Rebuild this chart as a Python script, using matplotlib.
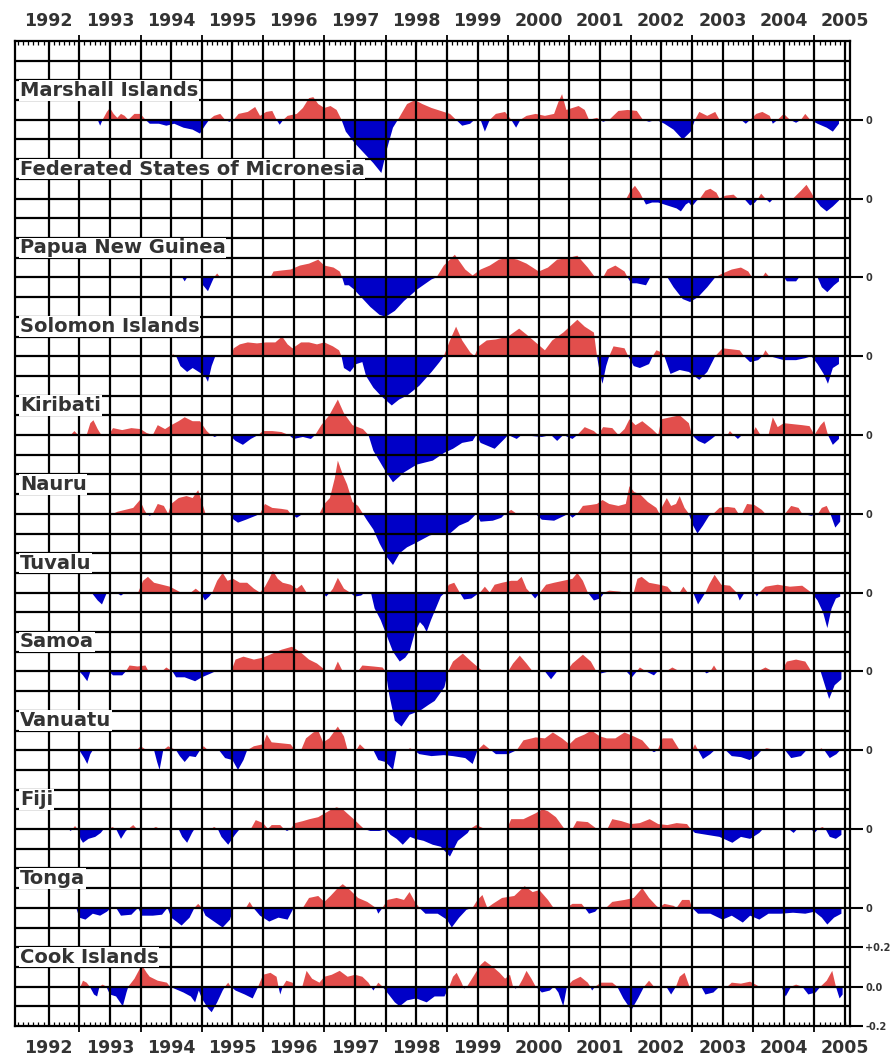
import matplotlib.pyplot as plt
import matplotlib.transforms as mtransforms
from matplotlib.ticker import MultipleLocator
import numpy as np

# sea level anomaly (m) as (year, value) points
marshall_islands = [
    (1993.30, 0.0), (1993.34, -0.03), (1993.38, 0.0), (1993.45, 0.04), (1993.50, 0.06), (1993.56, 0.03),
    (1993.62, 0.01), (1993.68, 0.03), (1993.74, 0.02), (1993.80, 0.0), (1993.90, 0.03), (1994.00, 0.03),
    (1994.08, 0.0), (1994.15, -0.02), (1994.30, -0.02), (1994.42, -0.03), (1994.55, -0.02), (1994.70, -0.04),
    (1994.85, -0.05), (1994.97, -0.07), (1995.05, -0.03), (1995.12, 0.0), (1995.20, 0.02), (1995.30, 0.03),
    (1995.38, 0.0), (1995.45, -0.01), (1995.52, 0.0), (1995.60, 0.03), (1995.75, 0.04), (1995.87, 0.065),
    (1995.95, 0.02), (1996.05, 0.04), (1996.15, 0.045), (1996.22, 0.0), (1996.27, -0.025), (1996.33, 0.0),
    (1996.40, 0.02), (1996.55, 0.03), (1996.65, 0.06), (1996.75, 0.11), (1996.82, 0.115), (1996.90, 0.08),
    (1997.00, 0.06), (1997.10, 0.07), (1997.20, 0.05), (1997.28, 0.0), (1997.35, -0.06), (1997.50, -0.12),
    (1997.65, -0.17), (1997.80, -0.22), (1997.93, -0.27), (1998.02, -0.15), (1998.12, -0.04), (1998.20, 0.0),
    (1998.35, 0.08), (1998.48, 0.10), (1998.60, 0.08), (1998.75, 0.06), (1998.90, 0.045), (1999.05, 0.03),
    (1999.15, 0.0), (1999.25, -0.03), (1999.38, -0.02), (1999.45, 0.0), (1999.55, 0.0), (1999.62, -0.06),
    (1999.70, 0.0), (1999.80, 0.03), (1999.95, 0.04), (2000.05, 0.0), (2000.13, -0.04), (2000.20, 0.0),
    (2000.30, 0.02), (2000.45, 0.03), (2000.60, 0.02), (2000.75, 0.03), (2000.82, 0.09), (2000.88, 0.13),
    (2000.95, 0.05), (2001.05, 0.06), (2001.15, 0.07), (2001.25, 0.05), (2001.32, 0.0), (2001.45, 0.01),
    (2001.55, -0.01), (2001.65, 0.0), (2001.80, 0.045), (2001.95, 0.05), (2002.10, 0.045), (2002.20, 0.0),
    (2002.30, -0.01), (2002.42, 0.0), (2002.55, -0.02), (2002.70, -0.05), (2002.85, -0.1), (2002.98, -0.06),
    (2003.05, 0.0), (2003.12, 0.04), (2003.25, 0.02), (2003.38, 0.04), (2003.45, 0.0), (2003.80, 0.0),
    (2003.88, -0.02), (2003.95, 0.0), (2004.05, 0.03), (2004.15, 0.04), (2004.27, 0.02), (2004.32, -0.02),
    (2004.40, 0.0), (2004.50, 0.03), (2004.60, 0.0), (2004.70, -0.015), (2004.78, 0.0), (2004.85, 0.03),
    (2004.93, 0.0), (2005.05, -0.02), (2005.20, -0.04), (2005.30, -0.06), (2005.40, -0.02),
]

micronesia = [
    (2001.93, 0.0), (2002.00, 0.04), (2002.07, 0.065), (2002.15, 0.03), (2002.20, 0.0), (2002.25, -0.03),
    (2002.35, -0.02), (2002.45, -0.02), (2002.55, -0.03), (2002.65, -0.04), (2002.75, -0.05), (2002.82, -0.065),
    (2002.90, -0.03), (2002.95, -0.02), (2003.00, -0.04), (2003.08, -0.01), (2003.13, 0.0), (2003.22, 0.04),
    (2003.30, 0.05), (2003.40, 0.03), (2003.45, 0.0), (2003.55, 0.015), (2003.68, 0.02), (2003.75, 0.0),
    (2003.85, 0.0), (2003.95, -0.035), (2004.03, -0.02), (2004.08, 0.0), (2004.13, 0.025), (2004.20, 0.0),
    (2004.27, -0.02), (2004.33, 0.0), (2004.65, 0.0), (2004.78, 0.04), (2004.87, 0.07), (2004.95, 0.03),
    (2005.00, 0.0), (2005.10, -0.04), (2005.20, -0.065), (2005.30, -0.04), (2005.40, -0.01),
]

papua_new_guinea = [
    (1994.68, 0.0), (1994.72, -0.02), (1994.76, 0.0), (1994.98, 0.0), (1995.02, -0.04), (1995.10, -0.07),
    (1995.17, -0.02), (1995.20, 0.0), (1995.25, 0.02), (1995.30, 0.0), (1996.12, 0.0), (1996.17, 0.03),
    (1996.30, 0.035), (1996.45, 0.04), (1996.60, 0.06), (1996.75, 0.07), (1996.90, 0.09), (1997.00, 0.06),
    (1997.15, 0.05), (1997.25, 0.03), (1997.29, 0.0), (1997.33, -0.04), (1997.40, -0.04), (1997.48, -0.06),
    (1997.60, -0.1), (1997.75, -0.15), (1997.90, -0.19), (1998.00, -0.2), (1998.15, -0.17), (1998.30, -0.12),
    (1998.52, -0.06), (1998.75, -0.01), (1998.83, 0.0), (1998.95, 0.06), (1999.13, 0.115), (1999.30, 0.04),
    (1999.42, 0.01), (1999.55, 0.04), (1999.70, 0.06), (1999.85, 0.09), (2000.00, 0.1), (2000.15, 0.09),
    (2000.30, 0.07), (2000.50, 0.03), (2000.65, 0.05), (2000.80, 0.09), (2001.00, 0.1), (2001.13, 0.11),
    (2001.30, 0.05), (2001.42, 0.0), (2001.55, 0.0), (2001.62, 0.04), (2001.75, 0.06), (2001.90, 0.03),
    (2001.95, 0.0), (2002.01, -0.03), (2002.10, -0.03), (2002.25, -0.04), (2002.32, 0.0), (2002.60, 0.0),
    (2002.70, -0.05), (2002.85, -0.11), (2002.97, -0.125), (2003.10, -0.1), (2003.25, -0.05), (2003.38, 0.0),
    (2003.50, 0.02), (2003.65, 0.04), (2003.80, 0.05), (2003.92, 0.03), (2003.98, 0.0), (2004.15, 0.0),
    (2004.20, 0.025), (2004.27, 0.0), (2004.50, 0.0), (2004.55, -0.02), (2004.70, -0.02), (2004.75, 0.0),
    (2005.05, 0.0), (2005.12, -0.05), (2005.21, -0.075), (2005.32, -0.04), (2005.40, -0.02),
]

solomon_islands = [
    (1994.50, 0.0), (1994.53, 0.01), (1994.58, 0.0), (1994.65, -0.05), (1994.76, -0.08), (1994.85, -0.06),
    (1994.95, -0.08), (1995.05, -0.1), (1995.10, -0.13), (1995.16, -0.05), (1995.22, 0.0), (1995.48, 0.0),
    (1995.52, 0.04), (1995.62, 0.06), (1995.75, 0.07), (1995.90, 0.065), (1996.05, 0.07), (1996.20, 0.07),
    (1996.31, 0.1), (1996.40, 0.06), (1996.48, 0.04), (1996.62, 0.07), (1996.75, 0.07), (1996.88, 0.06),
    (1997.00, 0.07), (1997.14, 0.05), (1997.24, 0.03), (1997.28, 0.0), (1997.32, -0.06), (1997.42, -0.08),
    (1997.52, -0.04), (1997.62, -0.03), (1997.68, -0.1), (1997.80, -0.16), (1997.92, -0.2), (1998.10, -0.25),
    (1998.22, -0.22), (1998.35, -0.2), (1998.55, -0.15), (1998.75, -0.08), (1998.88, -0.03), (1998.95, 0.0),
    (1999.05, 0.08), (1999.15, 0.15), (1999.25, 0.08), (1999.38, 0.02), (1999.45, 0.0), (1999.52, 0.05),
    (1999.65, 0.08), (1999.80, 0.085), (2000.00, 0.1), (2000.18, 0.14), (2000.30, 0.11), (2000.45, 0.07),
    (2000.60, 0.03), (2000.72, 0.08), (2000.90, 0.12), (2001.13, 0.185), (2001.25, 0.15), (2001.40, 0.12),
    (2001.45, 0.0), (2001.50, -0.09), (2001.54, -0.14), (2001.60, -0.05), (2001.65, 0.0), (2001.72, 0.05),
    (2001.90, 0.04), (2001.96, 0.0), (2002.05, -0.05), (2002.15, -0.06), (2002.30, -0.04), (2002.36, 0.0),
    (2002.42, 0.03), (2002.50, 0.02), (2002.55, 0.0), (2002.65, -0.09), (2002.80, -0.07), (2002.95, -0.08),
    (2003.12, -0.12), (2003.25, -0.08), (2003.38, 0.0), (2003.50, 0.04), (2003.65, 0.035), (2003.78, 0.03),
    (2003.85, 0.0), (2003.95, -0.03), (2004.08, -0.02), (2004.15, 0.0), (2004.20, 0.03), (2004.27, 0.0),
    (2004.50, -0.02), (2004.70, -0.02), (2004.85, -0.01), (2004.95, 0.0), (2005.05, -0.04), (2005.15, -0.09),
    (2005.22, -0.14), (2005.30, -0.06), (2005.40, -0.04),
]

kiribati = [
    (1992.86, 0.0), (1992.92, 0.02), (1992.98, 0.0), (1993.12, 0.0), (1993.18, 0.06), (1993.23, 0.075),
    (1993.30, 0.03), (1993.36, 0.0), (1993.48, 0.0), (1993.55, 0.035), (1993.70, 0.025), (1993.85, 0.035),
    (1994.00, 0.03), (1994.10, 0.01), (1994.20, 0.0), (1994.28, 0.05), (1994.40, 0.03), (1994.50, 0.05),
    (1994.62, 0.07), (1994.72, 0.09), (1994.85, 0.07), (1994.97, 0.07), (1995.08, 0.02), (1995.15, 0.0),
    (1995.21, -0.01), (1995.28, 0.0), (1995.45, 0.0), (1995.55, -0.03), (1995.67, -0.05), (1995.80, -0.02),
    (1995.92, 0.0), (1996.00, 0.02), (1996.15, 0.02), (1996.30, 0.015), (1996.42, 0.0), (1996.50, -0.02),
    (1996.65, -0.01), (1996.78, -0.02), (1996.85, 0.0), (1996.95, 0.05), (1997.08, 0.1), (1997.22, 0.18),
    (1997.32, 0.11), (1997.46, 0.05), (1997.63, 0.03), (1997.72, 0.0), (1997.80, -0.08), (1997.99, -0.18),
    (1998.12, -0.24), (1998.30, -0.19), (1998.51, -0.15), (1998.77, -0.13), (1998.96, -0.09), (1999.10, -0.07),
    (1999.25, -0.04), (1999.42, -0.03), (1999.48, 0.0), (1999.55, -0.04), (1999.78, -0.07), (1999.94, -0.02),
    (2000.00, 0.0), (2000.14, -0.02), (2000.22, 0.0), (2000.55, -0.01), (2000.70, 0.0), (2000.80, -0.03),
    (2000.90, 0.0), (2001.05, -0.02), (2001.13, 0.0), (2001.25, 0.04), (2001.40, 0.02), (2001.47, 0.0),
    (2001.55, 0.04), (2001.70, 0.035), (2001.80, 0.0), (2001.90, 0.03), (2001.98, 0.08), (2002.08, 0.05),
    (2002.19, 0.07), (2002.35, 0.03), (2002.45, 0.0), (2002.50, 0.08), (2002.65, 0.09), (2002.80, 0.1),
    (2002.95, 0.06), (2003.00, 0.0), (2003.10, -0.03), (2003.21, -0.045), (2003.32, -0.02), (2003.40, 0.0),
    (2003.58, 0.0), (2003.62, 0.02), (2003.68, 0.0), (2003.75, -0.02), (2003.82, 0.0), (2003.98, 0.0),
    (2004.04, 0.04), (2004.12, 0.0), (2004.25, 0.0), (2004.32, 0.09), (2004.40, 0.04), (2004.50, 0.06),
    (2004.65, 0.055), (2004.80, 0.05), (2004.92, 0.045), (2005.00, 0.0), (2005.10, 0.05), (2005.16, 0.07),
    (2005.22, 0.0), (2005.30, -0.05), (2005.40, -0.02),
]

nauru = [
    (1993.55, 0.0), (1993.62, 0.01), (1993.75, 0.02), (1993.88, 0.03), (1993.99, 0.07), (1994.06, 0.02),
    (1994.10, 0.0), (1994.15, -0.01), (1994.20, 0.0), (1994.28, 0.05), (1994.38, 0.04), (1994.45, 0.0),
    (1994.50, 0.05), (1994.62, 0.08), (1994.75, 0.09), (1994.85, 0.08), (1994.94, 0.12), (1995.02, 0.04),
    (1995.06, 0.0), (1995.45, 0.0), (1995.52, -0.03), (1995.59, -0.045), (1995.72, -0.03), (1995.88, -0.01),
    (1995.95, 0.0), (1996.03, 0.05), (1996.15, 0.03), (1996.30, 0.025), (1996.40, 0.02), (1996.45, 0.0),
    (1996.55, -0.02), (1996.65, 0.0), (1996.92, 0.0), (1997.00, 0.05), (1997.09, 0.08), (1997.17, 0.18),
    (1997.22, 0.27), (1997.30, 0.2), (1997.37, 0.15), (1997.46, 0.06), (1997.55, 0.04), (1997.63, 0.0),
    (1997.69, -0.03), (1997.80, -0.08), (1997.90, -0.15), (1998.02, -0.22), (1998.12, -0.26), (1998.23, -0.2),
    (1998.35, -0.17), (1998.48, -0.15), (1998.60, -0.13), (1998.72, -0.11), (1998.85, -0.1), (1999.05, -0.1),
    (1999.20, -0.06), (1999.35, -0.04), (1999.42, -0.02), (1999.48, 0.0), (1999.55, -0.04), (1999.75, -0.035),
    (1999.89, -0.02), (1999.95, 0.0), (2000.05, 0.02), (2000.14, 0.0), (2000.45, 0.0), (2000.55, -0.03),
    (2000.75, -0.035), (2000.92, -0.01), (2000.98, 0.0), (2001.05, -0.02), (2001.13, 0.0), (2001.22, 0.04),
    (2001.35, 0.045), (2001.45, 0.05), (2001.54, 0.07), (2001.65, 0.05), (2001.80, 0.04), (2001.92, 0.05),
    (2001.98, 0.14), (2002.06, 0.11), (2002.15, 0.1), (2002.28, 0.06), (2002.42, 0.03), (2002.47, 0.0),
    (2002.52, 0.04), (2002.59, 0.08), (2002.66, 0.04), (2002.74, 0.05), (2002.80, 0.09), (2002.88, 0.03),
    (2002.95, 0.0), (2003.02, -0.06), (2003.09, -0.1), (2003.18, -0.06), (2003.28, -0.01), (2003.35, 0.0),
    (2003.45, 0.03), (2003.58, 0.035), (2003.70, 0.03), (2003.76, 0.0), (2003.82, 0.0), (2003.90, 0.05),
    (2004.02, 0.045), (2004.14, 0.02), (2004.20, 0.0), (2004.52, 0.0), (2004.62, 0.04), (2004.74, 0.03),
    (2004.80, 0.0), (2004.95, -0.01), (2005.06, 0.0), (2005.12, 0.03), (2005.20, 0.04), (2005.26, 0.0),
    (2005.34, -0.07), (2005.42, -0.04),
]

tuvalu = [
    (1993.20, 0.0), (1993.30, -0.04), (1993.37, -0.06), (1993.45, 0.0), (1993.60, 0.0), (1993.68, -0.015),
    (1993.75, 0.0), (1993.96, 0.0), (1994.04, 0.06), (1994.12, 0.08), (1994.22, 0.05), (1994.35, 0.04),
    (1994.48, 0.03), (1994.60, 0.01), (1994.66, 0.0), (1994.82, 0.0), (1994.90, 0.02), (1994.98, 0.0),
    (1995.05, -0.04), (1995.12, -0.02), (1995.17, 0.0), (1995.25, 0.06), (1995.34, 0.1), (1995.42, 0.06),
    (1995.51, 0.07), (1995.62, 0.05), (1995.74, 0.05), (1995.85, 0.02), (1995.95, 0.0), (1996.03, 0.03),
    (1996.10, 0.07), (1996.16, 0.11), (1996.24, 0.07), (1996.32, 0.05), (1996.45, 0.04), (1996.55, 0.02),
    (1996.63, 0.04), (1996.71, 0.0), (1996.97, 0.0), (1997.03, -0.02), (1997.09, 0.0), (1997.14, 0.02),
    (1997.22, 0.075), (1997.32, 0.02), (1997.42, 0.0), (1997.50, -0.02), (1997.60, -0.015), (1997.66, 0.0),
    (1997.76, 0.0), (1997.82, -0.08), (1997.92, -0.14), (1998.02, -0.22), (1998.12, -0.3), (1998.23, -0.35),
    (1998.32, -0.33), (1998.39, -0.3), (1998.48, -0.2), (1998.56, -0.15), (1998.62, -0.17), (1998.67, -0.2),
    (1998.74, -0.14), (1998.82, -0.08), (1998.90, -0.02), (1998.97, 0.0), (1999.03, 0.04), (1999.12, 0.05),
    (1999.21, 0.0), (1999.28, -0.035), (1999.40, -0.03), (1999.49, -0.01), (1999.54, 0.0), (1999.62, 0.03),
    (1999.70, 0.0), (1999.78, 0.04), (1999.90, 0.05), (2000.05, 0.06), (2000.15, 0.06), (2000.22, 0.08),
    (2000.30, 0.02), (2000.36, 0.0), (2000.44, -0.03), (2000.52, 0.0), (2000.62, 0.04), (2000.75, 0.05),
    (2000.90, 0.06), (2001.05, 0.07), (2001.13, 0.1), (2001.22, 0.06), (2001.30, 0.0), (2001.40, -0.04),
    (2001.50, -0.03), (2001.57, 0.0), (2001.65, 0.01), (2001.82, 0.005), (2001.90, 0.0), (2002.05, 0.0),
    (2002.11, 0.07), (2002.18, 0.08), (2002.30, 0.05), (2002.47, 0.04), (2002.60, 0.03), (2002.68, 0.0),
    (2002.80, 0.0), (2002.86, 0.03), (2002.93, 0.0), (2003.02, 0.0), (2003.10, -0.06), (2003.18, -0.02),
    (2003.22, 0.0), (2003.28, 0.04), (2003.37, 0.09), (2003.48, 0.04), (2003.62, 0.035), (2003.73, 0.0),
    (2003.78, -0.04), (2003.86, 0.0), (2004.02, 0.0), (2004.06, -0.02), (2004.10, 0.0), (2004.20, 0.03),
    (2004.40, 0.04), (2004.60, 0.03), (2004.80, 0.035), (2004.95, 0.0), (2005.05, -0.04), (2005.14, -0.1),
    (2005.21, -0.18), (2005.28, -0.08), (2005.35, -0.03), (2005.42, -0.02),
]

samoa = [
    (1993.00, 0.0), (1993.06, -0.02), (1993.13, -0.05), (1993.18, 0.0), (1993.48, 0.0), (1993.55, -0.02),
    (1993.70, -0.02), (1993.76, 0.0), (1993.82, 0.03), (1993.95, 0.025), (1994.08, 0.03), (1994.13, 0.0),
    (1994.35, 0.0), (1994.42, 0.02), (1994.52, 0.0), (1994.58, -0.03), (1994.72, -0.03), (1994.89, -0.05),
    (1995.00, -0.03), (1995.15, -0.01), (1995.22, 0.0), (1995.48, 0.0), (1995.55, 0.06), (1995.68, 0.075),
    (1995.85, 0.06), (1996.00, 0.07), (1996.15, 0.09), (1996.30, 0.11), (1996.47, 0.125), (1996.60, 0.1),
    (1996.75, 0.06), (1996.88, 0.04), (1997.00, 0.01), (1997.05, 0.0), (1997.15, 0.0), (1997.22, 0.05),
    (1997.30, 0.0), (1997.55, 0.0), (1997.62, 0.03), (1997.80, 0.025), (1997.95, 0.02), (1998.00, 0.0),
    (1998.06, -0.12), (1998.15, -0.25), (1998.26, -0.28), (1998.39, -0.22), (1998.56, -0.2), (1998.70, -0.17),
    (1998.80, -0.15), (1998.96, -0.08), (1999.02, 0.0), (1999.10, 0.05), (1999.26, 0.09), (1999.40, 0.05),
    (1999.55, 0.01), (1999.60, 0.0), (2000.00, 0.0), (2000.08, 0.04), (2000.19, 0.08), (2000.30, 0.04),
    (2000.40, 0.0), (2000.60, 0.0), (2000.70, -0.04), (2000.80, 0.0), (2000.95, 0.0), (2001.05, 0.04),
    (2001.22, 0.085), (2001.35, 0.05), (2001.44, 0.0), (2001.52, -0.01), (2001.65, 0.0), (2001.93, 0.0),
    (2002.02, -0.03), (2002.10, 0.0), (2002.15, 0.02), (2002.25, 0.0), (2002.38, -0.02), (2002.44, 0.0),
    (2002.58, 0.0), (2002.68, 0.02), (2002.80, 0.0), (2003.20, 0.0), (2003.24, -0.01), (2003.30, 0.0),
    (2003.36, 0.03), (2003.42, 0.0), (2004.08, 0.0), (2004.20, 0.02), (2004.32, 0.0), (2004.46, 0.0),
    (2004.55, 0.05), (2004.70, 0.06), (2004.85, 0.05), (2004.95, 0.0), (2005.10, 0.0), (2005.18, -0.08),
    (2005.24, -0.14), (2005.33, -0.07), (2005.44, -0.04),
]

vanuatu = [
    (1993.00, 0.0), (1993.08, -0.04), (1993.13, -0.07), (1993.18, -0.02), (1993.22, 0.0), (1993.94, 0.0),
    (1994.00, 0.02), (1994.10, 0.0), (1994.22, 0.0), (1994.27, -0.06), (1994.31, -0.1), (1994.37, 0.0),
    (1994.45, 0.02), (1994.58, 0.0), (1994.64, -0.03), (1994.72, -0.06), (1994.80, -0.03), (1994.90, -0.035),
    (1994.97, 0.0), (1995.03, 0.02), (1995.10, 0.0), (1995.28, 0.0), (1995.38, -0.04), (1995.50, -0.05),
    (1995.59, -0.1), (1995.68, -0.05), (1995.74, 0.0), (1995.85, 0.02), (1996.00, 0.03), (1996.06, 0.08),
    (1996.14, 0.04), (1996.30, 0.035), (1996.45, 0.03), (1996.52, 0.0), (1996.62, 0.0), (1996.70, 0.06),
    (1996.82, 0.09), (1996.90, 0.1), (1996.98, 0.04), (1997.08, 0.06), (1997.22, 0.12), (1997.32, 0.07),
    (1997.38, 0.0), (1997.52, 0.0), (1997.58, 0.03), (1997.68, 0.0), (1997.80, 0.0), (1997.88, -0.05),
    (1998.00, -0.06), (1998.12, -0.1), (1998.18, 0.0), (1998.34, 0.0), (1998.40, 0.01), (1998.46, 0.0),
    (1998.55, -0.02), (1998.75, -0.03), (1998.95, -0.025), (1999.10, -0.03), (1999.30, -0.04), (1999.42, -0.07),
    (1999.50, 0.0), (1999.60, 0.03), (1999.72, 0.0), (1999.80, -0.02), (2000.00, -0.02), (2000.14, 0.0),
    (2000.25, 0.05), (2000.45, 0.065), (2000.60, 0.06), (2000.73, 0.09), (2000.88, 0.06), (2001.00, 0.03),
    (2001.10, 0.06), (2001.25, 0.08), (2001.36, 0.1), (2001.50, 0.07), (2001.61, 0.06), (2001.75, 0.06),
    (2001.90, 0.09), (2002.05, 0.07), (2002.19, 0.05), (2002.33, 0.0), (2002.38, -0.01), (2002.44, 0.0),
    (2002.52, 0.06), (2002.68, 0.06), (2002.80, 0.0), (2003.00, 0.0), (2003.05, 0.03), (2003.10, 0.0),
    (2003.18, -0.045), (2003.30, -0.02), (2003.37, 0.0), (2003.55, 0.0), (2003.65, -0.03), (2003.80, -0.035),
    (2003.94, -0.05), (2004.05, -0.03), (2004.14, 0.0), (2004.22, 0.01), (2004.38, 0.0), (2004.52, 0.0),
    (2004.62, -0.04), (2004.78, -0.03), (2004.87, 0.0), (2005.08, 0.0), (2005.11, 0.01), (2005.16, 0.0),
    (2005.25, -0.04), (2005.36, -0.02), (2005.42, 0.0),
]

fiji = [
    (1992.82, 0.0), (1992.86, -0.01), (1992.89, 0.0), (1992.93, 0.015), (1992.97, 0.0), (1993.02, -0.05),
    (1993.06, -0.07), (1993.15, -0.05), (1993.26, -0.04), (1993.35, -0.02), (1993.40, 0.0), (1993.48, 0.0),
    (1993.54, 0.01), (1993.60, 0.0), (1993.68, -0.05), (1993.76, -0.01), (1993.80, 0.0), (1993.88, 0.02),
    (1993.94, 0.0), (1994.18, 0.0), (1994.25, 0.01), (1994.32, 0.0), (1994.62, 0.0), (1994.68, -0.04),
    (1994.76, -0.07), (1994.84, -0.02), (1994.88, 0.0), (1995.15, 0.0), (1995.20, 0.01), (1995.26, 0.0),
    (1995.32, -0.04), (1995.43, -0.08), (1995.54, -0.03), (1995.62, 0.0), (1995.80, 0.0), (1995.88, 0.045),
    (1996.00, 0.03), (1996.08, 0.0), (1996.14, 0.02), (1996.28, 0.02), (1996.34, 0.0), (1996.39, -0.01),
    (1996.45, 0.0), (1996.52, 0.03), (1996.65, 0.04), (1996.76, 0.05), (1996.90, 0.06), (1997.01, 0.08),
    (1997.12, 0.1), (1997.20, 0.11), (1997.30, 0.1), (1997.37, 0.08), (1997.48, 0.05), (1997.58, 0.02),
    (1997.65, 0.0), (1997.75, -0.01), (1997.90, -0.01), (1998.00, 0.0), (1998.08, -0.03), (1998.18, -0.05),
    (1998.28, -0.08), (1998.40, -0.04), (1998.48, -0.05), (1998.62, -0.06), (1998.77, -0.08), (1998.90, -0.09),
    (1999.05, -0.14), (1999.18, -0.06), (1999.34, -0.02), (1999.38, 0.0), (1999.48, 0.02), (1999.62, 0.0),
    (1999.98, 0.0), (2000.05, 0.05), (2000.25, 0.05), (2000.45, 0.08), (2000.56, 0.1), (2000.65, 0.09),
    (2000.78, 0.06), (2000.92, 0.0), (2001.05, 0.0), (2001.12, 0.04), (2001.30, 0.035), (2001.45, 0.0),
    (2001.62, 0.0), (2001.70, 0.05), (2001.85, 0.04), (2002.00, 0.025), (2002.15, 0.03), (2002.31, 0.05),
    (2002.45, 0.025), (2002.60, 0.02), (2002.75, 0.03), (2002.92, 0.025), (2002.98, 0.0), (2003.05, -0.02),
    (2003.25, -0.03), (2003.45, -0.04), (2003.66, -0.07), (2003.80, -0.04), (2003.95, -0.05), (2004.10, -0.02),
    (2004.16, 0.0), (2004.43, 0.005), (2004.58, 0.0), (2004.66, -0.02), (2004.72, 0.0), (2004.95, 0.0),
    (2005.00, -0.02), (2005.06, 0.0), (2005.13, 0.01), (2005.18, 0.0), (2005.25, -0.04), (2005.35, -0.05),
    (2005.44, -0.03),
]

tonga = [
    (1992.95, 0.0), (1993.00, -0.05), (1993.10, -0.06), (1993.22, -0.03), (1993.34, -0.04), (1993.45, -0.02),
    (1993.52, 0.0), (1993.60, 0.0), (1993.68, -0.04), (1993.85, -0.035), (1993.96, 0.0), (1994.02, -0.04),
    (1994.20, -0.04), (1994.35, -0.035), (1994.44, 0.0), (1994.50, -0.05), (1994.67, -0.09), (1994.80, -0.05),
    (1994.88, 0.0), (1994.94, 0.02), (1995.00, 0.0), (1995.06, -0.04), (1995.20, -0.07), (1995.34, -0.1),
    (1995.46, -0.06), (1995.52, 0.0), (1995.72, 0.0), (1995.78, 0.03), (1995.84, 0.0), (1995.95, -0.04),
    (1996.10, -0.07), (1996.25, -0.05), (1996.40, -0.06), (1996.50, 0.0), (1996.65, 0.0), (1996.75, 0.05),
    (1996.90, 0.06), (1997.00, 0.03), (1997.10, 0.06), (1997.22, 0.1), (1997.30, 0.12), (1997.42, 0.09),
    (1997.55, 0.05), (1997.70, 0.03), (1997.84, 0.0), (1997.88, -0.03), (1997.95, 0.0), (1998.03, 0.04),
    (1998.18, 0.05), (1998.30, 0.04), (1998.39, 0.08), (1998.48, 0.03), (1998.55, 0.0), (1998.65, -0.03),
    (1998.85, -0.03), (1999.00, -0.06), (1999.08, -0.1), (1999.20, -0.05), (1999.32, -0.01), (1999.42, 0.0),
    (1999.50, 0.04), (1999.58, 0.065), (1999.66, 0.0), (1999.75, 0.02), (1999.90, 0.05), (2000.10, 0.06),
    (2000.27, 0.11), (2000.40, 0.08), (2000.51, 0.09), (2000.65, 0.04), (2000.74, 0.0), (2000.95, 0.0),
    (2001.05, 0.02), (2001.20, 0.02), (2001.25, 0.0), (2001.32, -0.03), (2001.42, -0.02), (2001.48, 0.0),
    (2001.60, 0.0), (2001.70, 0.03), (2001.90, 0.04), (2002.05, 0.05), (2002.19, 0.1), (2002.30, 0.05),
    (2002.42, 0.01), (2002.46, 0.0), (2002.55, 0.02), (2002.70, 0.01), (2002.75, 0.0), (2002.84, 0.04),
    (2002.96, 0.04), (2003.00, 0.0), (2003.10, -0.03), (2003.30, -0.03), (2003.50, -0.06), (2003.65, -0.04),
    (2003.83, -0.075), (2003.95, -0.04), (2004.10, -0.06), (2004.25, -0.03), (2004.45, -0.03), (2004.65, -0.025),
    (2004.85, -0.03), (2005.00, -0.02), (2005.12, -0.05), (2005.21, -0.085), (2005.32, -0.05), (2005.44, -0.03),
]

cook_islands = [
    (1993.02, 0.0), (1993.06, 0.03), (1993.12, 0.02), (1993.17, 0.0), (1993.24, -0.04), (1993.29, -0.05),
    (1993.33, 0.0), (1993.38, 0.01), (1993.44, 0.0), (1993.50, -0.04), (1993.60, -0.05), (1993.71, -0.1),
    (1993.77, -0.03), (1993.80, 0.0), (1993.90, 0.04), (1994.02, 0.11), (1994.10, 0.07), (1994.15, 0.05),
    (1994.28, 0.03), (1994.43, 0.02), (1994.48, 0.0), (1994.55, -0.01), (1994.70, -0.03), (1994.82, -0.05),
    (1994.89, -0.08), (1994.95, -0.02), (1995.00, -0.06), (1995.10, -0.11), (1995.16, -0.13), (1995.25, -0.08),
    (1995.34, -0.02), (1995.38, 0.0), (1995.43, 0.02), (1995.47, 0.0), (1995.55, -0.02), (1995.70, -0.04),
    (1995.83, -0.06), (1995.92, 0.0), (1996.00, 0.06), (1996.12, 0.07), (1996.22, 0.05), (1996.25, 0.0),
    (1996.28, -0.04), (1996.32, 0.0), (1996.38, 0.03), (1996.48, 0.02), (1996.52, 0.0), (1996.64, 0.0),
    (1996.71, 0.08), (1996.80, 0.04), (1996.92, 0.02), (1997.00, 0.05), (1997.12, 0.06), (1997.25, 0.08),
    (1997.38, 0.05), (1997.50, 0.06), (1997.62, 0.05), (1997.72, 0.02), (1997.76, 0.0), (1997.80, -0.02),
    (1997.84, 0.0), (1997.88, 0.02), (1997.95, 0.0), (1998.05, -0.04), (1998.15, -0.08), (1998.23, -0.1),
    (1998.35, -0.07), (1998.50, -0.06), (1998.67, -0.08), (1998.80, -0.05), (1998.96, -0.05), (1999.04, 0.0),
    (1999.10, 0.05), (1999.16, 0.07), (1999.24, 0.02), (1999.28, -0.01), (1999.33, 0.0), (1999.45, 0.06),
    (1999.55, 0.11), (1999.62, 0.13), (1999.75, 0.1), (1999.86, 0.07), (1999.95, 0.04), (2000.03, 0.06),
    (2000.08, 0.0), (2000.12, -0.01), (2000.17, 0.0), (2000.24, 0.04), (2000.30, 0.08), (2000.38, 0.04),
    (2000.45, 0.0), (2000.55, -0.03), (2000.68, -0.02), (2000.75, 0.0), (2000.82, -0.03), (2000.90, -0.1),
    (2000.96, 0.0), (2001.05, 0.03), (2001.18, 0.05), (2001.30, 0.02), (2001.34, 0.0), (2001.37, -0.02),
    (2001.42, 0.0), (2001.52, 0.02), (2001.70, 0.02), (2001.78, 0.0), (2001.88, -0.06), (2002.01, -0.12),
    (2002.12, -0.06), (2002.22, 0.0), (2002.30, 0.03), (2002.38, 0.0), (2002.58, 0.0), (2002.66, -0.04),
    (2002.74, 0.0), (2002.80, 0.05), (2002.88, 0.07), (2002.96, 0.0), (2003.15, 0.0), (2003.22, -0.04),
    (2003.35, -0.03), (2003.45, 0.0), (2003.58, 0.0), (2003.65, 0.02), (2003.80, 0.015), (2003.95, 0.025),
    (2004.10, 0.0), (2004.46, 0.0), (2004.53, -0.05), (2004.62, 0.0), (2004.70, 0.01), (2004.80, 0.0),
    (2004.90, -0.04), (2005.02, -0.03), (2005.10, 0.0), (2005.20, 0.03), (2005.29, 0.08), (2005.35, 0.0),
    (2005.41, -0.06), (2005.46, -0.04),
]

countries = ['Marshall Islands', 'Federated States of Micronesia', 'Papua New Guinea',
             'Solomon Islands', 'Kiribati', 'Nauru', 'Tuvalu', 'Samoa', 'Vanuatu',
             'Fiji', 'Tonga', 'Cook Islands']
series = [marshall_islands, micronesia, papua_new_guinea, solomon_islands, kiribati, nauru,
          tuvalu, samoa, vanuatu, fiji, tonga, cook_islands]
year_labels = [str(y) for y in range(1992, 2006)]

red = '#e24e4c'
blue = '#0000c8'
txt = '#333333'
spacing = 0.4

fig = plt.figure(figsize=(8.92, 10.55), dpi=100)
ax = fig.add_axes([15 / 892, 1 - 1026 / 1055, 835 / 892, 985 / 1055])

n = len(countries)
for i, (name, data) in enumerate(zip(countries, series)):
    off = spacing * (n - 1 - i)
    t, v = np.array(data).T
    ax.fill_between(t, off, off + v, where=v >= 0, interpolate=True, color=red, lw=0, zorder=2)
    ax.fill_between(t, off, off + v, where=v <= 0, interpolate=True, color=blue, lw=0, zorder=2)
    ax.text(1992.03, off + 0.15, name, fontsize=14, fontweight='bold', color=txt,
            va='center', ha='left', zorder=5,
            bbox=dict(facecolor='white', edgecolor='none', pad=0.5))

x0, x1 = 1991.95, 2005.58
y0, y1 = -0.2, 4.8
ax.set_xlim(x0, x1)
ax.set_ylim(y0, y1)

# grid drawn on top of the fills
for gx in np.arange(1992.5, 2005.51, 0.5):
    ax.axvline(gx, color='black', lw=1.6, zorder=3)
for gy in np.arange(y0 + 0.1, y1 - 0.05, 0.1):
    ax.axhline(gy, color='black', lw=1.6, zorder=3)
for s in ax.spines.values():
    s.set_linewidth(1.6)
    s.set_zorder(4)

# year ticks (top and bottom) with monthly minor ticks
ax.set_xticks(np.arange(1993, 2006, 1))
ax.xaxis.set_minor_locator(MultipleLocator(1 / 12))
ax.tick_params(axis='x', which='major', direction='inout', length=8, width=1.3,
               top=True, bottom=True, labeltop=False, labelbottom=False)
ax.tick_params(axis='x', which='minor', direction='in', length=3, width=0.9, top=True, bottom=True)

trans = mtransforms.blended_transform_factory(ax.transData, ax.transAxes)
for k, lab in enumerate(year_labels):
    xc = 1992.5 + k
    ax.text(xc, 1.0 + 20 / 985, lab, transform=trans, ha='center', va='center',
            fontsize=12.5, fontweight='bold', color=txt)
    ax.text(xc, -22 / 985, lab, transform=trans, ha='center', va='center',
            fontsize=12.5, fontweight='bold', color=txt)

# right-hand zero ticks for each panel, full scale on the last one
ypos = [spacing * k for k in range(1, n)] + [0.2, 0.0, -0.2]
ylab = ['0'] * (n - 1) + ['+0.2', '0.0', '-0.2']
ax.yaxis.tick_right()
ax.set_yticks(ypos, ylab)
ax.tick_params(axis='y', which='both', direction='out', length=9, width=1.5, pad=2,
               labelsize=7, labelcolor=txt, left=False)
for lbl in ax.get_yticklabels():
    lbl.set_fontweight('bold')

fig.savefig('out.png', dpi=100)
